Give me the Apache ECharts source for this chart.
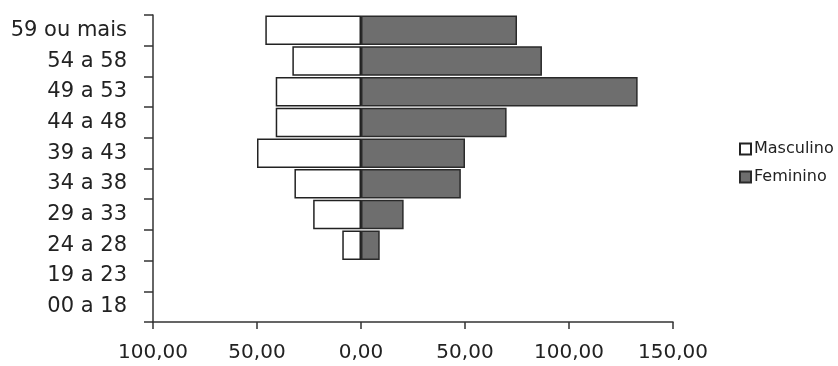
<!DOCTYPE html>
<html>
<head>
<meta charset="utf-8">
<style>
  html, body { margin: 0; padding: 0; background: #fff; }
  #chart { width: 838px; height: 366px; }
</style>
<script src="https://cdn.jsdelivr.net/npm/echarts@6/dist/echarts.min.js"></script>
</head>
<body>
<div id="chart"></div>
<script>
// Age groups, bottom to top
const faixas = ['00 a 18', '19 a 23', '24 a 28', '29 a 33', '34 a 38', '39 a 43', '44 a 48', '49 a 53', '54 a 58', '59 ou mais'];
// Masculino drawn to the left (negative), Feminino to the right
const masculino = [0, 0, -9, -23, -32, -50, -41, -41, -33, -46];
const feminino = [0, 0, 9, 20.5, 48, 50, 70, 133, 87, 75];
const eixoX = { min: -100, max: 150, interval: 50 };

// empty groups get no bar at all (no outline on the zero line)
const semZero = arr => arr.map(v => (v === 0 ? null : v));

const fonte = '"DejaVu Sans", Verdana, sans-serif';
const chart = echarts.init(document.getElementById('chart'));
chart.setOption({
  animation: false,
  backgroundColor: '#ffffff',
  grid: { left: 153, right: 165, top: 15, bottom: 44 },
  legend: {
    orient: 'vertical',
    left: 734,
    top: 136,
    itemWidth: 11,
    itemHeight: 11,
    itemGap: 12,
    icon: 'rect',
    textStyle: { fontFamily: fonte, fontSize: 16, color: '#222', padding: [0, 0, 0, -2] },
    data: ['Masculino', 'Feminino']
  },
  xAxis: {
    type: 'value',
    min: eixoX.min,
    max: eixoX.max,
    interval: eixoX.interval,
    splitLine: { show: false },
    axisLine: { show: true, lineStyle: { color: '#333', width: 1.5 } },
    axisTick: { show: true, length: 7, lineStyle: { color: '#333', width: 1.5 } },
    axisLabel: {
      fontFamily: fonte, fontSize: 20, color: '#222', margin: 21,
      formatter: v => Math.abs(v).toFixed(2).replace('.', ',')
    }
  },
  yAxis: {
    type: 'category',
    data: faixas,
    axisLine: { show: true, onZero: false, lineStyle: { color: '#333', width: 1.5 } },
    axisTick: { show: true, length: 9, lineStyle: { color: '#333', width: 1.5 } },
    axisLabel: { fontFamily: fonte, fontSize: 21, color: '#222', margin: 26 }
  },
  series: [
    {
      name: 'Masculino',
      type: 'bar',
      stack: 'piramide',
      barCategoryGap: '4%',
      data: semZero(masculino),
      itemStyle: { color: '#ffffff', borderColor: '#222', borderWidth: 1.5 }
    },
    {
      name: 'Feminino',
      type: 'bar',
      stack: 'piramide',
      barCategoryGap: '4%',
      data: semZero(feminino),
      itemStyle: { color: '#6e6e6e', borderColor: '#2a2a2a', borderWidth: 1.5 }
    }
  ]
});
</script>
</body>
</html>
